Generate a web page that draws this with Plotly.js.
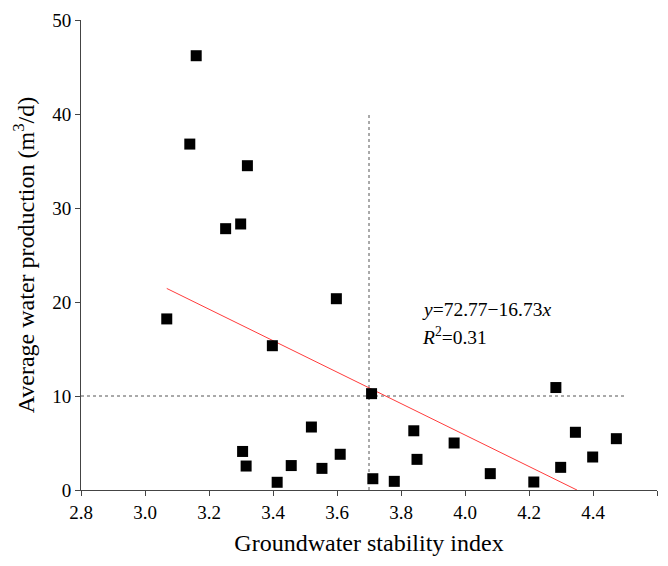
<!DOCTYPE html>
<html>
<head>
<meta charset="utf-8">
<script src="https://cdn.plot.ly/plotly-3.0.1.min.js"></script>
<style>html,body{margin:0;padding:0;background:#fff;}#chart{width:668px;height:566px;}</style>
</head>
<body>
<div id="chart"></div>
<script>
const stabilityIndex = [3.068, 3.140, 3.160, 3.252, 3.299, 3.320, 3.305, 3.316, 3.398, 3.413,
  3.457, 3.520, 3.553, 3.598, 3.610, 3.708, 3.712, 3.779, 3.840, 3.850,
  3.966, 4.079, 4.215, 4.284, 4.299, 4.345, 4.399, 4.473];
const waterProduction = [18.2, 36.8, 46.2, 27.8, 28.3, 34.5, 4.1, 2.55, 15.35, 0.82,
  2.6, 6.7, 2.3, 20.35, 3.8, 10.25, 1.2, 0.92, 6.3, 3.26,
  5.0, 1.74, 0.85, 10.9, 2.41, 6.14, 3.51, 5.46];

// Linear fit y = a + b x
const fitCoef = [72.77, -16.73];
const fitX = [3.068, 4.35];
const fitY = fitX.map(v => fitCoef[0] + fitCoef[1] * v);

// Reference (dashed) lines
const hRefX = [2.8, 4.5];
const hRefY = [10, 10];
const vRefX = [3.7, 3.7];
const vRefY = [0, 40];

const font = 'Liberation Serif';
const dashStyle = {color: '#555', width: 1, dash: '3px,3px'};

const traces = [
  {x: hRefX, y: hRefY, mode: 'lines', line: dashStyle, hoverinfo: 'skip', showlegend: false},
  {x: vRefX, y: vRefY, mode: 'lines', line: dashStyle, hoverinfo: 'skip', showlegend: false},
  {x: fitX, y: fitY, mode: 'lines', line: {color: '#ff3b3b', width: 1}, showlegend: false},
  {x: stabilityIndex, y: waterProduction, mode: 'markers',
   marker: {symbol: 'square', size: 11, color: '#000'}, showlegend: false}
];

const layout = {
  width: 668, height: 566,
  margin: {l: 81, r: 11, t: 20, b: 76},
  paper_bgcolor: '#fff', plot_bgcolor: '#fff',
  font: {family: font, color: '#000', size: 19},
  showlegend: false,
  xaxis: {
    range: [2.8, 4.6], dtick: 0.2, tickformat: '.1f',
    showline: true, ticks: 'outside',
    showgrid: false, zeroline: false,
    tickfont: {family: font, size: 19, color: '#000'},
    title: {text: 'Groundwater stability index', font: {family: font, size: 24}, standoff: 12},
    automargin: false
  },
  yaxis: {
    range: [0, 50], dtick: 10,
    showline: true, ticks: 'outside',
    showgrid: false, zeroline: false,
    tickfont: {family: font, size: 19, color: '#000'},
    title: {text: 'Average water production (m<sup>3</sup>/d)', font: {family: font, size: 24}, standoff: 10},
    automargin: false
  },
  annotations: [
    {x: 3.859, y: 19.15, xref: 'x', yref: 'y', xanchor: 'left', yanchor: 'middle', showarrow: false,
     text: '<i>y</i>=72.77\u221216.73<i>x</i>', font: {family: font, size: 19.5, color: '#000'}},
    {x: 3.859, y: 16.4, xref: 'x', yref: 'y', xanchor: 'left', yanchor: 'middle', showarrow: false,
     text: '<i>R</i><sup>2</sup>=0.31', font: {family: font, size: 19.5, color: '#000'}}
  ]
};

Plotly.newPlot('chart', traces, layout, {displayModeBar: false});
</script>
</body>
</html>
